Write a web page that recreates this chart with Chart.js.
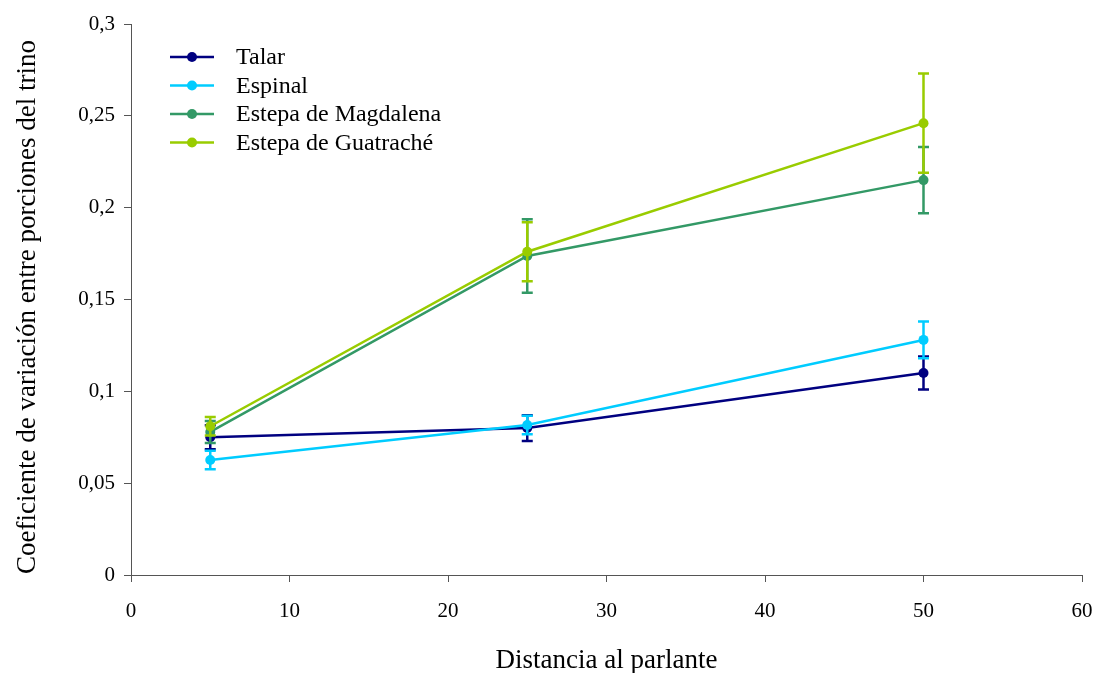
<!DOCTYPE html>
<html>
<head>
<meta charset="utf-8">
<script src="https://cdn.jsdelivr.net/npm/chart.js@4.4.0/dist/chart.umd.min.js"></script>
<style>
  html, body { margin: 0; padding: 0; background: #ffffff; }
  #wrap { width: 1096px; height: 673px; position: relative; }
</style>
</head>
<body>
<div id="wrap"><canvas id="chart" width="1096" height="673"></canvas></div>
<script>
// Distance to the loudspeaker (x) for every series
const distances = [5, 25, 50];

// Mean coefficient of variation and its error per habitat
const talar = [0.075, 0.080, 0.110];
const talarErr = [0.0065, 0.007, 0.009];
const espinal = [0.0626, 0.0817, 0.128];
const espinalErr = [0.005, 0.005, 0.010];
const magdalena = [0.0779, 0.1737, 0.215];
const magdalenaErr = [0.006, 0.020, 0.018];
const guatrache = [0.081, 0.176, 0.246];
const guatracheErr = [0.005, 0.016, 0.027];

const seriesNames = ['Talar', 'Espinal', 'Estepa de Magdalena', 'Estepa de Guatraché'];
const seriesColors = ['#000080', '#00CCFF', '#339966', '#99CC00'];

// Axis ticks and titles
const xTicks = [0, 10, 20, 30, 40, 50, 60];
const xTickLabels = ['0', '10', '20', '30', '40', '50', '60'];
const yTicks = [0, 0.05, 0.1, 0.15, 0.2, 0.25, 0.3];
const yTickLabels = ['0', '0,05', '0,1', '0,15', '0,2', '0,25', '0,3'];
const xTitle = 'Distancia al parlante';
const yTitle = 'Coeficiente de variación entre porciones del trino';

const FONT = "'Liberation Serif', 'Times New Roman', serif";
const AXIS_COLOR = '#555555';

const values = [talar, espinal, magdalena, guatrache];
const errors = [talarErr, espinalErr, magdalenaErr, guatracheErr];

const datasets = values.map((vals, i) => ({
  label: seriesNames[i],
  data: distances.map((x, j) => ({ x: x, y: vals[j] })),
  errors: errors[i],
  borderColor: seriesColors[i],
  backgroundColor: seriesColors[i],
  pointBackgroundColor: seriesColors[i],
  pointBorderWidth: 0,
  pointRadius: 5,
  borderWidth: 2.5,
  showLine: true,
  tension: 0,
  order: values.length - i
}));

// Symmetric error bars with caps, drawn right after each dataset
const errorBars = {
  id: 'errorBars',
  afterDatasetDraw(chart, args) {
    const ds = chart.data.datasets[args.index];
    const ys = chart.scales.y, xs = chart.scales.x;
    const ctx = chart.ctx;
    ctx.save();
    ctx.strokeStyle = ds.borderColor;
    ctx.lineWidth = 2.5;
    ds.data.forEach((p, j) => {
      const e = ds.errors[j];
      const px = xs.getPixelForValue(p.x);
      const top = ys.getPixelForValue(p.y + e);
      const bot = ys.getPixelForValue(p.y - e);
      ctx.beginPath();
      ctx.moveTo(px, top); ctx.lineTo(px, bot);
      ctx.moveTo(px - 5.5, top); ctx.lineTo(px + 5.5, top);
      ctx.moveTo(px - 5.5, bot); ctx.lineTo(px + 5.5, bot);
      ctx.stroke();
    });
    ctx.restore();
  }
};

// Legend inside the plot area (top-left) and the two axis titles
const annotations = {
  id: 'annotations',
  afterDraw(chart) {
    const ctx = chart.ctx;
    const area = chart.chartArea;
    ctx.save();

    const x0 = 170, x1 = 214, tx = 236, y0 = 57, step = 28.5;
    ctx.font = '24px ' + FONT;
    ctx.textBaseline = 'middle';
    ctx.textAlign = 'left';
    seriesNames.forEach((name, i) => {
      const y = y0 + i * step;
      ctx.strokeStyle = seriesColors[i];
      ctx.lineWidth = 2.5;
      ctx.beginPath(); ctx.moveTo(x0, y); ctx.lineTo(x1, y); ctx.stroke();
      ctx.fillStyle = seriesColors[i];
      ctx.beginPath(); ctx.arc((x0 + x1) / 2, y, 5, 0, Math.PI * 2); ctx.fill();
      ctx.fillStyle = '#000000';
      ctx.fillText(name, tx, y + 1);
    });

    ctx.font = '27px ' + FONT;
    ctx.fillStyle = '#000000';
    ctx.textAlign = 'center';
    ctx.textBaseline = 'alphabetic';
    ctx.fillText(xTitle, (area.left + area.right) / 2, 668);

    ctx.translate(35, 307);
    ctx.rotate(-Math.PI / 2);
    ctx.fillText(yTitle, 0, 0);
    ctx.restore();
  }
};

new Chart(document.getElementById('chart'), {
  type: 'scatter',
  data: { datasets: datasets },
  plugins: [errorBars, annotations],
  options: {
    responsive: false,
    animation: false,
    devicePixelRatio: 1,
    layout: { padding: { top: 24, right: 14, bottom: 0, left: 0 } },
    plugins: { legend: { display: false }, tooltip: { enabled: false } },
    scales: {
      x: {
        type: 'linear',
        min: 0, max: 60,
        afterBuildTicks: s => { s.ticks = xTicks.map(v => ({ value: v })); },
        afterFit: s => { s.height = 98; s.paddingRight = 0; s.paddingLeft = 0; },
        ticks: {
          color: '#000000',
          font: { family: FONT, size: 21 },
          padding: 17,
          maxRotation: 0,
          callback: (v, i) => xTickLabels[i]
        },
        grid: { display: true, drawOnChartArea: false, drawTicks: true, tickLength: 7, color: AXIS_COLOR, lineWidth: 1 },
        border: { display: true, color: AXIS_COLOR, width: 1 }
      },
      y: {
        type: 'linear',
        min: 0, max: 0.3,
        afterBuildTicks: s => { s.ticks = yTicks.map(v => ({ value: v })); },
        afterFit: s => { s.width = 131; s.paddingTop = 0; s.paddingBottom = 0; },
        ticks: {
          color: '#000000',
          font: { family: FONT, size: 21 },
          padding: 9,
          callback: (v, i) => yTickLabels[i]
        },
        grid: { display: true, drawOnChartArea: false, drawTicks: true, tickLength: 7, color: AXIS_COLOR, lineWidth: 1 },
        border: { display: true, color: AXIS_COLOR, width: 1 }
      }
    }
  }
});
</script>
</body>
</html>
